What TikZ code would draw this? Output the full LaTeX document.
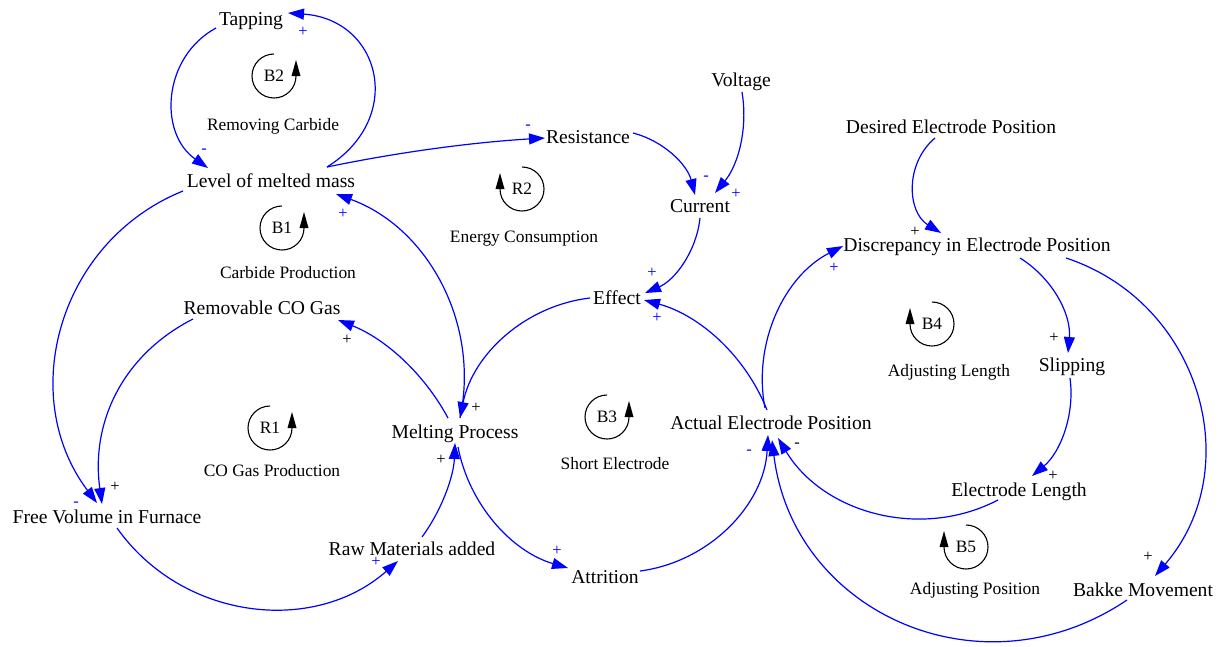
\documentclass[tikz,border=0pt]{standalone}
\usepackage{fontspec}
\setmainfont{Liberation Serif}
\usetikzlibrary{arrows.meta}
\tikzset{
  var/.style={inner sep=0pt, font=\fontsize{19.6}{22}\selectfont, text height=13pt, text depth=0pt},
  looplabel/.style={inner sep=0pt, font=\fontsize{17.4}{20}\selectfont, text height=11.5pt, text depth=0pt},
  sgn/.style={inner sep=0pt, font=\fontsize{16.5}{18}\selectfont, text height=9pt, text depth=0pt},
  bsgn/.style={sgn, text=blue},
  link/.style={draw=blue, line width=1.2pt, -{Triangle[length=16pt,width=11pt]}},
  loopring/.style={line width=1.1pt},
  pics/ccwloop/.style={code={
    \draw[loopring] (90:22) arc[start angle=90, end angle=360, radius=22];
    \fill (17.5,0) -- (26.5,0) -- (22,16) -- cycle;
    \node[looplabel] (t) {#1};
  }},
  pics/cwloop/.style={code={
    \draw[loopring] (90:22) arc[start angle=90, end angle=-180, radius=22];
    \fill (-26.5,0) -- (-17.5,0) -- (-22,16) -- cycle;
    \node[looplabel] (t) {#1};
  }},
}
\begin{document}
\begin{tikzpicture}[x=1pt,y=1pt]
\path[use as bounding box] (0,0) rectangle (1223,-646);

% variables
\node[var] (tap) at (251,-19) {Tapping};
\node[var] (lev) at (271,-181) {Level of melted mass};
\node[var] (res) at (588,-137) {Resistance};
\node[var] (vol) at (741,-80) {Voltage};
\node[var] (cur) at (700,-206) {Current};
\node[var] (des) at (951,-127) {Desired Electrode Position};
\node[var] (dis) at (977,-245) {Discrepancy in Electrode Position};
\node[var] (eff) at (617,-298) {Effect};
\node[var] (rem) at (262,-308) {Removable CO Gas};
\node[var] (sli) at (1072,-365) {Slipping};
\node[var] (mel) at (455,-432) {Melting Process};
\node[var] (act) at (771,-423) {Actual Electrode Position};
\node[var] (len) at (1019,-490) {Electrode Length};
\node[var] (fre) at (107,-517) {Free Volume in Furnace};
\node[var] (raw) at (412,-549) {Raw Materials added};
\node[var] (att) at (605,-577) {Attrition};
\node[var] (bak) at (1143,-590) {Bakke Movement};

% causal links
\draw[link] ([shift={(56,14)}]lev.center) to[out=32,in=-4,looseness=1.5] ([shift={(37,6)}]tap.center);
\draw[link] ([shift={(-35,-9)}]tap.center) to[out=208.5,in=145,looseness=1.11] ([shift={(-63,13)}]lev.center);
\draw[link] ([shift={(56,14)}]lev.center) to[out=11.7,in=183.4,looseness=0.85] ([shift={(-43,-1)}]res.center);
\draw[link] ([shift={(45,4)}]res.center) to[out=-14.5,in=104.5,looseness=0.92] ([shift={(-5,11)}]cur.center);
\draw[link] ([shift={(1,-12)}]vol.center) to[out=279.5,in=50.5,looseness=0.9] ([shift={(15,13)}]cur.center);
\draw[link] ([shift={(0,-12)}]cur.center) to[out=264,in=23.4,looseness=0.91] ([shift={(28,5)}]eff.center);
\draw[link] ([shift={(-4,13)}]act.center) to[out=111.7,in=344.7,looseness=0.9] ([shift={(27,-2)}]eff.center);
\draw[link] ([shift={(-27,0)}]eff.center) to[out=186.7,in=78.7,looseness=0.94] ([shift={(5,14)}]mel.center);
\draw[link] ([shift={(5,14)}]mel.center) to[out=78,in=340,looseness=0.97] ([shift={(65,-13)}]lev.center);
\draw[link] ([shift={(-7,14)}]mel.center) to[out=118.3,in=338.3,looseness=0.88] ([shift={(76,-12)}]rem.center);
\draw[link] ([shift={(-69,-11)}]rem.center) to[out=207,in=98,looseness=1.0] ([shift={(-5,13)}]fre.center);
\draw[link] ([shift={(-88,-10)}]lev.center) to[out=202,in=127,looseness=1.06] ([shift={(-10,14)}]fre.center);
\draw[link] ([shift={(10,-11)}]fre.center) to[out=-54.7,in=221.3,looseness=1.02] ([shift={(-14,-12)}]raw.center);
\draw[link] ([shift={(10,12)}]raw.center) to[out=53.7,in=267.7,looseness=0.86] ([shift={(0,-11)}]mel.center);
\draw[link] ([shift={(3,-15)}]mel.center) to[out=-79.1,in=163.7,looseness=0.92] ([shift={(-37,9)}]att.center);
\draw[link] ([shift={(35,6)}]att.center) to[out=7.5,in=266.9,looseness=0.96] ([shift={(-3,-12)}]act.center);
\draw[link] ([shift={(-6,15)}]act.center) to[out=100.9,in=207.1,looseness=0.94] ([shift={(-134,-1)}]dis.center);
\draw[link] ([shift={(-16,-11)}]des.center) to[out=220.2,in=148.2,looseness=1.07] ([shift={(-36,12)}]dis.center);
\draw[link] ([shift={(43,-13)}]dis.center) to[out=-32,in=85,looseness=0.93] ([shift={(-4,12)}]sli.center);
\draw[link] ([shift={(-2,-13)}]sli.center) to[out=277.8,in=39.8,looseness=0.9] ([shift={(13,14)}]len.center);
\draw[link] ([shift={(-21,-10)}]len.center) to[out=207.5,in=301,looseness=0.98] ([shift={(7,-15)}]act.center);
\draw[link] ([shift={(89,-13)}]dis.center) to[out=-18.3,in=49.3,looseness=1.1] ([shift={(12,14)}]bak.center);
\draw[link] ([shift={(-16,-10)}]bak.center) to[out=214,in=277,looseness=1.15] ([shift={(1,-17)}]act.center);

% link polarities
\node[bsgn] (s1) at (303,-32) {+};
\node[bsgn] (s2) at (204,-149) {-};
\node[bsgn] (s3) at (528,-125) {-};
\node[bsgn] (s4) at (706,-176) {-};
\node[bsgn] (s5) at (736,-194) {+};
\node[bsgn] (s6) at (652,-273) {+};
\node[bsgn] (s7) at (657,-318) {+};
\node[bsgn] (s8) at (343,-214) {+};
\node[sgn] (s9) at (476,-408) {+};
\node[sgn] (s10) at (347,-340) {+};
\node[sgn] (s11) at (115,-487) {+};
\node[bsgn] (s12) at (76,-502) {-};
\node[bsgn] (s13) at (376,-562) {+};
\node[sgn] (s14) at (441,-460) {+};
\node[bsgn] (s15) at (557,-551) {+};
\node[bsgn] (s16) at (749,-450) {-};
\node[sgn] (s17) at (797,-443) {-};
\node[bsgn] (s18) at (834,-268) {+};
\node[sgn] (s19) at (915,-232) {+};
\node[sgn] (s20) at (1054,-338) {+};
\node[sgn] (s21) at (1053,-476) {+};
\node[sgn] (s22) at (1148,-557) {+};

% feedback loops
\pic (b2) at (274,-76) {ccwloop=B2};
\pic (b1) at (282,-228) {ccwloop=B1};
\pic (r1) at (270,-428) {ccwloop=R1};
\pic (b3) at (607,-417) {ccwloop=B3};
\pic (r2) at (522,-189) {cwloop=R2};
\pic (b4) at (932,-324) {cwloop=B4};
\pic (b5) at (966,-547) {cwloop=B5};

\node[looplabel] (lb2) at (273,-125) {Removing Carbide};
\node[looplabel] (lb1) at (288,-273) {Carbide Production};
\node[looplabel] (lr2) at (524,-237) {Energy Consumption};
\node[looplabel] (lr1) at (272,-471) {CO Gas Production};
\node[looplabel] (lb3) at (615,-464) {Short Electrode};
\node[looplabel] (lb4) at (949,-371) {Adjusting Length};
\node[looplabel] (lb5) at (975,-589) {Adjusting Position};
\end{tikzpicture}
\end{document}
